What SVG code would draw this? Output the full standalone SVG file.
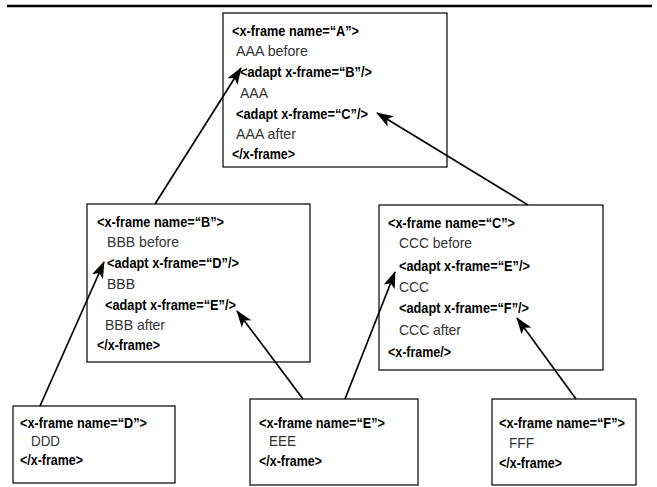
<svg xmlns="http://www.w3.org/2000/svg" width="657" height="487" viewBox="0 0 657 487">
<defs>
<marker id="ah" markerUnits="userSpaceOnUse" markerWidth="17" markerHeight="12" refX="16" refY="6" orient="auto">
<path d="M0,0 L17,6 L0,12 L4,6 z" fill="#000"/>
</marker>
<style>
.box{fill:#fff;stroke:#000;stroke-width:1.2}
.t{font-family:"Liberation Sans",Arial,sans-serif;font-size:14.5px;font-weight:bold;fill:#000}
.c{font-family:"Liberation Sans",Arial,sans-serif;font-size:14.5px;fill:#333}
.conn line{stroke:#000;stroke-width:1.7;marker-end:url(#ah)}
</style>
</defs>
<rect width="657" height="487" fill="#fff"/>
<line x1="7" y1="6" x2="652" y2="6" stroke="#000" stroke-width="2.5"/>

<g id="nodeA">
<rect class="box" x="223" y="13" width="224" height="154"/>
<text class="t" x="232" y="36" textLength="127" lengthAdjust="spacingAndGlyphs">&lt;x-frame name=“A”&gt;</text>
<text class="c" x="236" y="56" textLength="72" lengthAdjust="spacingAndGlyphs">AAA before</text>
<text class="t" x="240" y="77" textLength="132" lengthAdjust="spacingAndGlyphs">&lt;adapt x-frame=“B”/&gt;</text>
<text class="c" x="240" y="98" textLength="28" lengthAdjust="spacingAndGlyphs">AAA</text>
<text class="t" x="236" y="119" textLength="132" lengthAdjust="spacingAndGlyphs">&lt;adapt x-frame=“C”/&gt;</text>
<text class="c" x="236" y="139" textLength="60" lengthAdjust="spacingAndGlyphs">AAA after</text>
<text class="t" x="232" y="159" textLength="63" lengthAdjust="spacingAndGlyphs">&lt;/x-frame&gt;</text>
</g>

<g id="nodeB">
<rect class="box" x="87" y="204" width="223" height="158"/>
<text class="t" x="97" y="227" textLength="127" lengthAdjust="spacingAndGlyphs">&lt;x-frame name=“B”&gt;</text>
<text class="c" x="107" y="247" textLength="72" lengthAdjust="spacingAndGlyphs">BBB before</text>
<text class="t" x="107" y="268" textLength="132" lengthAdjust="spacingAndGlyphs">&lt;adapt x-frame=“D”/&gt;</text>
<text class="c" x="107" y="289" textLength="28" lengthAdjust="spacingAndGlyphs">BBB</text>
<text class="t" x="105" y="310" textLength="131" lengthAdjust="spacingAndGlyphs">&lt;adapt x-frame=“E”/&gt;</text>
<text class="c" x="105" y="330" textLength="60" lengthAdjust="spacingAndGlyphs">BBB after</text>
<text class="t" x="97" y="350" textLength="63" lengthAdjust="spacingAndGlyphs">&lt;/x-frame&gt;</text>
</g>

<g id="nodeC">
<rect class="box" x="379" y="205" width="224" height="165"/>
<text class="t" x="388" y="228" textLength="127" lengthAdjust="spacingAndGlyphs">&lt;x-frame name=“C”&gt;</text>
<text class="c" x="399" y="248" textLength="73" lengthAdjust="spacingAndGlyphs">CCC before</text>
<text class="t" x="399" y="271" textLength="131" lengthAdjust="spacingAndGlyphs">&lt;adapt x-frame=“E”/&gt;</text>
<text class="c" x="399" y="292" textLength="30" lengthAdjust="spacingAndGlyphs">CCC</text>
<text class="t" x="399" y="313" textLength="130" lengthAdjust="spacingAndGlyphs">&lt;adapt x-frame=“F”/&gt;</text>
<text class="c" x="399" y="335" textLength="62" lengthAdjust="spacingAndGlyphs">CCC after</text>
<text class="t" x="388" y="357" textLength="63" lengthAdjust="spacingAndGlyphs">&lt;x-frame/&gt;</text>
</g>

<g id="nodeD">
<rect class="box" x="13" y="406" width="162" height="77"/>
<text class="t" x="20" y="428" textLength="127" lengthAdjust="spacingAndGlyphs">&lt;x-frame name=“D”&gt;</text>
<text class="c" x="31" y="446" textLength="29" lengthAdjust="spacingAndGlyphs">DDD</text>
<text class="t" x="20" y="465" textLength="63" lengthAdjust="spacingAndGlyphs">&lt;/x-frame&gt;</text>
</g>

<g id="nodeE">
<rect class="box" x="250" y="399" width="168" height="86"/>
<text class="t" x="259" y="428" textLength="126" lengthAdjust="spacingAndGlyphs">&lt;x-frame name=“E”&gt;</text>
<text class="c" x="269" y="446" textLength="27" lengthAdjust="spacingAndGlyphs">EEE</text>
<text class="t" x="259" y="466" textLength="63" lengthAdjust="spacingAndGlyphs">&lt;/x-frame&gt;</text>
</g>

<g id="nodeF">
<rect class="box" x="492" y="399" width="144" height="86"/>
<text class="t" x="499" y="428" textLength="126" lengthAdjust="spacingAndGlyphs">&lt;x-frame name=“F”&gt;</text>
<text class="c" x="509" y="448" textLength="25" lengthAdjust="spacingAndGlyphs">FFF</text>
<text class="t" x="499" y="468" textLength="63" lengthAdjust="spacingAndGlyphs">&lt;/x-frame&gt;</text>
</g>

<g id="connectors" class="conn">
<line x1="155" y1="204" x2="241" y2="68"/>
<line x1="528" y1="205" x2="377" y2="113"/>
<line x1="40" y1="406" x2="104" y2="262"/>
<line x1="303" y1="399" x2="237" y2="311"/>
<line x1="345" y1="399" x2="395" y2="272"/>
<line x1="576" y1="399" x2="517" y2="318"/>
</g>
</svg>
